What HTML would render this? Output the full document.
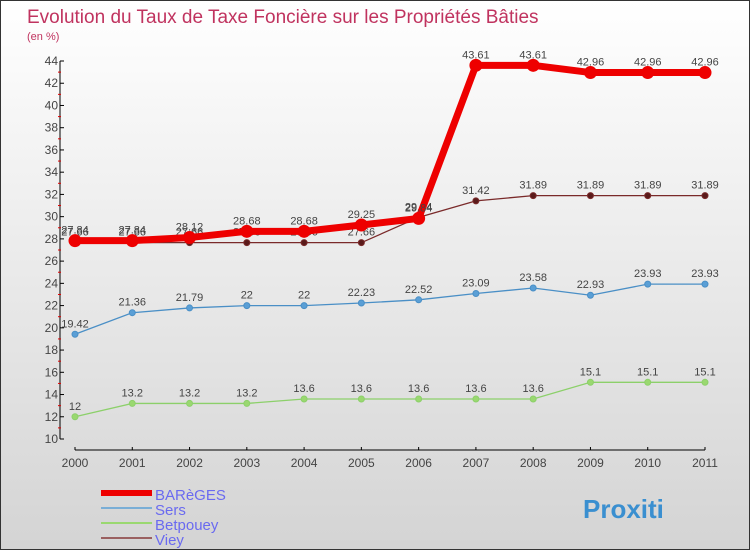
<!DOCTYPE html>
<html><head><meta charset="utf-8"><style>
body{margin:0}
#c{width:748px;height:548px;border:1px solid #333;background:linear-gradient(#fff,#d4d4d4);position:relative;font-family:"Liberation Sans",sans-serif;overflow:hidden}
</style></head><body>
<div id="c">
<svg id="s" width="748" height="548" xmlns="http://www.w3.org/2000/svg" font-family="Liberation Sans, sans-serif"></svg>
</div>
<script>
const years=[2000,2001,2002,2003,2004,2005,2006,2007,2008,2009,2010,2011];
const bareges=[27.84,27.84,28.12,28.68,28.68,29.25,29.84,43.61,43.61,42.96,42.96,42.96];
const sers=[19.42,21.36,21.79,22,22,22.23,22.52,23.09,23.58,22.93,23.93,23.93];
const betpouey=[12,13.2,13.2,13.2,13.6,13.6,13.6,13.6,13.6,15.1,15.1,15.1];
const viey=[27.66,27.66,27.66,27.66,27.66,27.66,29.94,31.42,31.89,31.89,31.89,31.89];
const yTicks=[10,12,14,16,18,20,22,24,26,28,30,32,34,36,38,40,42,44];
const s=document.getElementById('s');
const NS='http://www.w3.org/2000/svg';
const X=i=>74+i*(630/11);
const Y=v=>438-(v-10)*(378/34);
function mk(t,a,p){const e=document.createElementNS(NS,t);for(const k in a)e.setAttribute(k,a[k]);(p||s).appendChild(e);return e;}
let t=mk('text',{x:26,y:22,'font-size':19,fill:'#c0335f'});t.textContent='Evolution du Taux de Taxe Foncière sur les Propriétés Bâties';


t=mk('text',{x:26,y:39,'font-size':11,fill:'#c0335f'});t.textContent='(en %)';


// axes
let a=mk('line',{x1:59,y1:Y(44),x2:59,y2:Y(10),stroke:'#000'});


a=mk('line',{x1:X(0),y1:449,x2:X(11),y2:449,stroke:'#000'});


yTicks.forEach(v=>{
 mk('line',{x1:59,y1:Y(v),x2:63,y2:Y(v),stroke:'#000'});
 if(v<44)mk('line',{x1:57,y1:Y(v+1),x2:60,y2:Y(v+1),stroke:'#d00'});
 const l=mk('text',{x:57,y:Y(v)+4,'font-size':12,fill:'#444','text-anchor':'end'});l.textContent=v;
 
 
});
years.forEach((y,i)=>{
 mk('line',{x1:X(i),y1:446,x2:X(i),y2:449,stroke:'#000'});
 const l=mk('text',{x:X(i),y:466,'font-size':12,fill:'#444','text-anchor':'middle'});l.textContent=y;
 
 
});
function series(d,col,w,r,fill,name,lab){
 const g=mk('g',{});
 
 
 mk('polyline',{points:d.map((v,i)=>X(i)+','+Y(v)).join(' '),fill:'none',stroke:col,'stroke-width':w},g);
 d.forEach((v,i)=>{
  const c=mk('circle',{cx:X(i),cy:Y(v),r:r,fill:fill,stroke:col},g);
  
  
  const l=mk('text',{x:X(i),y:Y(v)-7,'font-size':11,fill:'#444','text-anchor':'middle'},g);l.textContent=v;
  
  
 });
}
series(betpouey,'#8cd06a',1.3,3,'#9ad870','betpouey');
series(sers,'#4a8fc6',1.3,3,'#5a9fd6','sers');
series(viey,'#7a2a2a',1.3,3,'#5a1a1a','viey');
series(bareges,'#ee0000',7,6,'#ee0000','bareges');
const leg=[['BARèGES','#ee0000',6],['Sers','#7aaed6',2],['Betpouey','#9ad870',2],['Viey','#9a6060',2]];
leg.forEach((e,i)=>{
 const y=492+i*15;
 const g=mk('g',{});
 
 
 mk('line',{x1:100,y1:y,x2:151,y2:y,stroke:e[1],'stroke-width':e[2]},g);
 const l=mk('text',{x:154,y:y+7,'font-size':15,fill:'#6a6af0'},g);l.textContent=e[0];
});
t=mk('text',{x:582,y:517,'font-size':26,'font-weight':'bold',fill:'#3a8fd0'});t.textContent='Proxiti';


</script>
</body></html>
